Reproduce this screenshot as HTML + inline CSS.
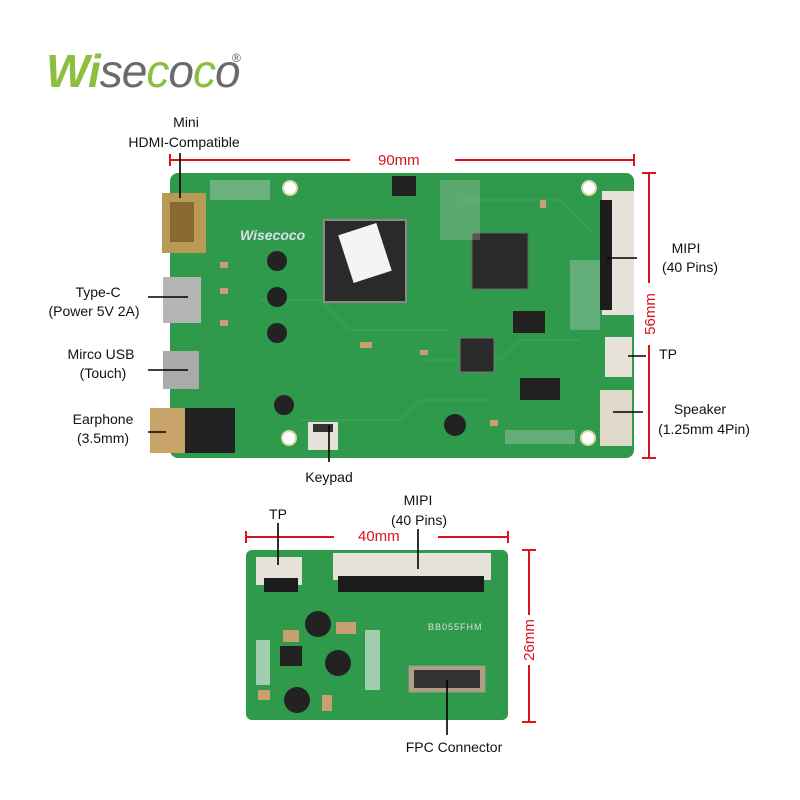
<!DOCTYPE html>
<html><head><meta charset="utf-8"><style>
body{margin:0;background:#fff}
svg{display:block}
text{font-family:"Liberation Sans",sans-serif}
</style></head><body>
<svg width="800" height="800" viewBox="0 0 800 800">
<!-- logo -->
<text x="46" y="87" font-size="46" font-style="italic" font-weight="bold" fill="#8cbf3f" letter-spacing="-1">Wi<tspan fill="#6b6b6b" font-weight="normal">se</tspan><tspan fill="#8cbf3f" font-weight="normal">c</tspan><tspan fill="#6b6b6b" font-weight="normal">o</tspan><tspan fill="#8cbf3f" font-weight="normal">c</tspan><tspan fill="#6b6b6b" font-weight="normal">o</tspan></text>
<text x="232" y="62" font-size="12" fill="#555">®</text>

<!-- labels main -->
<g font-size="14" fill="#111" text-anchor="middle">
<text x="186" y="127">Mini</text>
<text x="184" y="147">HDMI-Compatible</text>
<text x="98" y="297">Type-C</text>
<text x="94" y="316">(Power 5V 2A)</text>
<text x="101" y="359">Mirco USB</text>
<text x="103" y="378">(Touch)</text>
<text x="103" y="424">Earphone</text>
<text x="103" y="443">(3.5mm)</text>
<text x="329" y="482">Keypad</text>
<text x="686" y="253">MIPI</text>
<text x="690" y="272">(40 Pins)</text>
<text x="668" y="359">TP</text>
<text x="700" y="414">Speaker</text>
<text x="704" y="434">(1.25mm 4Pin)</text>
<text x="278" y="519">TP</text>
<text x="418" y="505">MIPI</text>
<text x="419" y="525">(40 Pins)</text>
<text x="454" y="752">FPC Connector</text>
</g>

<!-- dimensions -->
<g stroke="#d8141c" stroke-width="2" fill="none">
<path d="M170 154v12M170 160h180M455 160h179M634 154v12"/>
<path d="M642 173h14M649 173v110M649 345v113M642 458h14"/>
<path d="M246 531v12M246 537h88M438 537h70M508 531v12"/>
<path d="M522 550h14M529 550v65M529 665v57M522 722h14"/>
</g>
<g fill="#d8141c" font-size="15">
<text x="378" y="165">90mm</text>
<text x="358" y="541">40mm</text>
<text transform="translate(655 314) rotate(-90)" text-anchor="middle">56mm</text>
<text transform="translate(534 640) rotate(-90)" text-anchor="middle">26mm</text>
</g>

<!-- main board -->
<rect x="170" y="173" width="464" height="285" rx="8" fill="#2f9a4c"/>
<g fill="none" stroke="#4cb060" stroke-width="1" opacity=".6">
<path d="M260 300h60l30 30h100M420 360h80l20-20h60M300 420h100l20-20h70M460 200h100l30 30"/>
</g>
<!-- holes -->
<g fill="#fff" stroke="#d8d8b0" stroke-width="2">
<circle cx="290" cy="188" r="7"/><circle cx="589" cy="188" r="7"/><circle cx="289" cy="438" r="7"/><circle cx="588" cy="438" r="7"/>
</g>
<text x="240" y="240" font-size="14" fill="#dde" font-weight="bold" font-style="italic">Wisecoco</text>
<!-- big chips -->
<rect x="324" y="220" width="82" height="82" fill="#2a2a2a" stroke="#888" stroke-width="2"/>
<rect x="345" y="228" width="40" height="50" fill="#f4f4f4" transform="rotate(-18 365 253)"/>
<rect x="472" y="233" width="56" height="56" fill="#2a2a2a" stroke="#666"/>
<rect x="460" y="338" width="34" height="34" fill="#2a2a2a" stroke="#777"/>
<rect x="520" y="378" width="40" height="22" fill="#222"/>
<rect x="513" y="311" width="32" height="22" fill="#222"/>
<rect x="392" y="176" width="24" height="20" fill="#222"/>
<!-- inductors -->
<g fill="#222"><circle cx="277" cy="261" r="10"/><circle cx="277" cy="297" r="10"/><circle cx="277" cy="333" r="10"/><circle cx="284" cy="405" r="10"/><circle cx="455" cy="425" r="11"/></g>
<!-- connectors -->
<rect x="162" y="193" width="44" height="60" fill="#b89a55"/>
<rect x="170" y="202" width="24" height="40" fill="#8a6a30"/>
<rect x="163" y="277" width="38" height="46" fill="#b5b5b5"/>
<rect x="163" y="351" width="36" height="38" fill="#aaa"/>
<rect x="150" y="408" width="40" height="45" fill="#c8a468"/>
<rect x="185" y="408" width="50" height="45" fill="#222"/>
<rect x="602" y="191" width="32" height="124" fill="#e6e2da"/>
<rect x="600" y="200" width="12" height="110" fill="#1c1c1c"/>
<rect x="605" y="337" width="27" height="40" fill="#e6e2da"/>
<rect x="600" y="390" width="32" height="56" fill="#e0d8c8"/>
<rect x="308" y="422" width="30" height="28" fill="#e6e2da"/>
<rect x="313" y="424" width="20" height="8" fill="#333"/>
<!-- small parts -->
<g fill="#c8a070">
<rect x="220" y="262" width="8" height="6"/><rect x="220" y="288" width="8" height="6"/><rect x="220" y="320" width="8" height="6"/><rect x="420" y="350" width="8" height="5"/><rect x="360" y="342" width="12" height="6"/><rect x="540" y="200" width="6" height="8"/><rect x="490" y="420" width="8" height="6"/>
</g>
<g fill="#ddd">
<rect x="210" y="180" width="60" height="20" opacity=".35"/><rect x="570" y="260" width="30" height="70" opacity=".3"/><rect x="440" y="180" width="40" height="60" opacity=".25"/><rect x="505" y="430" width="70" height="14" opacity=".3"/>
</g>
<!-- leader lines main -->
<g stroke="#000" stroke-width="1.6">
<path d="M180 153v45M148 297h40M148 370h40M148 432h18M329 425v37M607 258h30M628 356h18M613 412h30"/>
</g>

<!-- small board -->
<rect x="246" y="550" width="262" height="170" rx="6" fill="#2f9a4c"/>
<rect x="256" y="557" width="46" height="28" fill="#e6e2da"/>
<rect x="264" y="578" width="34" height="14" fill="#1c1c1c"/>
<rect x="333" y="553" width="158" height="27" fill="#e6e2da"/>
<rect x="338" y="576" width="146" height="16" fill="#1c1c1c"/>
<rect x="409" y="666" width="76" height="26" fill="#b0a080" stroke="#999"/>
<rect x="414" y="670" width="66" height="18" fill="#333"/>
<text x="428" y="630" font-size="9" fill="#dde" letter-spacing="1">BB055FHM</text>
<g fill="#222"><circle cx="318" cy="624" r="13"/><circle cx="338" cy="663" r="13"/><circle cx="297" cy="700" r="13"/><rect x="280" y="646" width="22" height="20"/></g>
<g fill="#c8a070"><rect x="336" y="622" width="20" height="12"/><rect x="283" y="630" width="16" height="12"/><rect x="322" y="695" width="10" height="16"/><rect x="258" y="690" width="12" height="10"/></g>
<g fill="#eee" opacity=".6"><rect x="365" y="630" width="15" height="60"/><rect x="256" y="640" width="14" height="45"/></g>
<g stroke="#000" stroke-width="1.6">
<path d="M278 523v42M418 529v40M447 680v55"/>
</g>
</svg>
</body></html>
